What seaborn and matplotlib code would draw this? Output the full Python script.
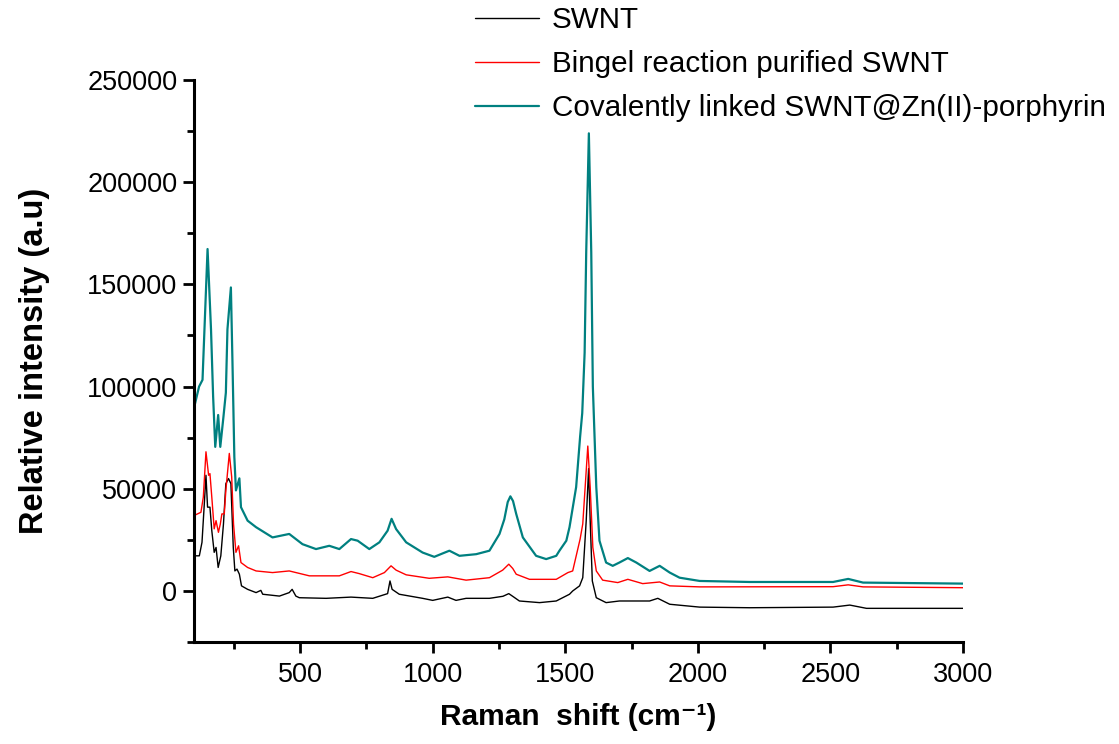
import matplotlib
matplotlib.use("Agg")
import matplotlib.pyplot as plt
from matplotlib.ticker import MultipleLocator
import seaborn as sns
import pandas as pd

# values
swnt_x = [100, 120, 130, 138, 145, 151, 160, 167, 176, 183, 191, 201, 211, 220, 230, 239,
          248, 254, 262, 271, 279, 302, 334, 352, 359, 422, 459, 470, 484, 497, 598, 692,
          774, 830, 839, 847, 874, 962, 1000, 1057, 1088, 1126, 1214, 1265, 1287, 1305,
          1327, 1403, 1466, 1516, 1528, 1554, 1566, 1579, 1588, 1594, 1602, 1617, 1654,
          1704, 1818, 1849, 1894, 2007, 2195, 2510, 2573, 2636, 3000]
swnt_y = [17200, 17200, 23800, 41000, 56600, 41000, 41000, 29500, 18900, 21300, 11500, 17200,
          32800, 52500, 55000, 52500, 21300, 9800, 10700, 8200, 2500, 800, -800, 300, -1600,
          -2500, -800, 800, -2500, -3300, -3600, -3000, -3600, -1300, 4900, 800, -1600,
          -3600, -4600, -3000, -4600, -3600, -3600, -2600, -1300, -2900, -4900, -5700, -4900,
          -1600, 0, 2500, 6500, 34400, 59900, 34400, 4900, -3300, -5700, -4900, -4900, -3600,
          -6500, -7900, -8200, -7900, -6900, -8500, -8500]

bingel_x = [100, 126, 135, 145, 155, 160, 167, 176, 183, 192, 199, 205, 214, 220, 233, 242,
            249, 258, 268, 277, 302, 334, 396, 459, 535, 648, 692, 723, 774, 818, 843, 862,
            900, 987, 1057, 1126, 1214, 1264, 1287, 1302, 1315, 1365, 1466, 1510, 1528,
            1556, 1566, 1575, 1585, 1594, 1604, 1617, 1641, 1698, 1736, 1792, 1856, 1894,
            2007, 2510, 2567, 2623, 3000]
bingel_y = [36900, 38500, 45900, 68100, 56600, 57400, 45900, 30400, 34400, 28700, 32700,
            37700, 37700, 49200, 67300, 55800, 32700, 18900, 22100, 13900, 11500, 9800, 9000,
            9800, 7400, 7400, 9500, 8500, 6500, 9000, 12300, 10200, 7900, 6200, 6900, 5300,
            6500, 10200, 13100, 11000, 8200, 5700, 5700, 9000, 9800, 25400, 32800, 50800,
            70900, 50800, 21300, 9800, 5300, 4100, 5700, 3600, 4400, 2500, 2000, 2100, 3000,
            2000, 1600]

porph_x = [100, 119, 132, 151, 164, 172, 180, 191, 199, 211, 220, 226, 239, 245, 252, 258,
           271, 277, 302, 334, 396, 459, 509, 560, 610, 648, 692, 717, 761, 799, 830, 845,
           862, 900, 962, 1006, 1038, 1063, 1101, 1164, 1214, 1252, 1270, 1283, 1293, 1303,
           1315, 1340, 1390, 1428, 1466, 1478, 1504, 1516, 1541, 1556, 1564, 1573, 1579,
           1589, 1598, 1604, 1617, 1629, 1654, 1679, 1704, 1736, 1768, 1818, 1856, 1894,
           1931, 2007, 2195, 2510, 2567, 2623, 3000]
porph_y = [89600, 100000, 103300, 167300, 128000, 95100, 70500, 86100, 70500, 85300, 97000,
           128000, 148500, 111600, 65600, 49200, 55100, 41000, 34400, 31200, 26200, 27900,
           22900, 20500, 22100, 20500, 25400, 24600, 20500, 23800, 29500, 35300, 30300,
           23800, 18800, 16700, 18400, 19700, 17200, 18000, 19700, 27900, 35000, 43500,
           46300, 44000, 37700, 26200, 17200, 15600, 17200, 19700, 24600, 31200, 50800,
           75500, 87000, 116500, 165700, 223900, 165700, 100000, 50800, 24600, 13900, 12300,
           13900, 16100, 13900, 9800, 12300, 9000, 6500, 4900, 4400, 4400, 5900, 4100, 3600]

labels = ["SWNT", "Bingel reaction purified SWNT", "Covalently linked SWNT@Zn(II)-porphyrin"]
colors = ["black", "#ff0000", "#008080"]

sns.set_theme(style="ticks")
plt.rcParams["font.family"] = ["Liberation Sans", "DejaVu Sans"]
plt.rcParams["text.color"] = "black"
plt.rcParams["axes.labelcolor"] = "black"

fig = plt.figure(figsize=(11.19, 7.44), dpi=100)
ax = fig.add_axes([0.1734, 0.137, 0.6872, 0.7555])

series = [(swnt_x, swnt_y), (bingel_x, bingel_y), (porph_x, porph_y)]
widths = [1.0, 1.0, 1.6]
for (xs, ys), lab, col, lw in zip(series, labels, colors, widths):
    df = pd.DataFrame({"shift": xs, "intensity": ys})
    sns.lineplot(data=df, x="shift", y="intensity", color=col, lw=lw, label=lab,
                 estimator=None, sort=False, ax=ax, legend=False)

ax.set_xlim(100, 3000)
ax.set_ylim(-25000, 250000)
ax.xaxis.set_major_locator(MultipleLocator(500))
ax.xaxis.set_minor_locator(MultipleLocator(250))
ax.yaxis.set_major_locator(MultipleLocator(50000))
ax.yaxis.set_minor_locator(MultipleLocator(25000))
ax.set_xticks([500, 1000, 1500, 2000, 2500, 3000])
ax.set_yticks([0, 50000, 100000, 150000, 200000, 250000])

for side in ["top", "right"]:
    ax.spines[side].set_visible(False)
for side in ["left", "bottom"]:
    ax.spines[side].set_linewidth(2.2)
    ax.spines[side].set_color("black")

ax.tick_params(which="major", direction="out", length=8, width=2, labelsize=19.5,
               colors="black", pad=4)
ax.tick_params(which="minor", direction="out", length=5, width=2, colors="black")
ax.tick_params(axis="x", which="major", pad=6)

ax.set_xlabel("Raman  shift (cm\u207b\u00b9)", fontsize=21.5, fontweight="bold", labelpad=11)
ax.set_ylabel("Relative intensity (a.u)", fontsize=23.5, fontweight="bold", labelpad=27)
ax.grid(False)

handles, _ = ax.get_legend_handles_labels()
fig.legend(handles, labels, loc="upper left", bbox_to_anchor=(0.4245, 0.992),
           bbox_transform=fig.transFigure, frameon=False, fontsize=21.3,
           handlelength=2.17, handletextpad=0.43, labelspacing=0.54,
           borderpad=0, borderaxespad=0, labelcolor="black")

fig.savefig("out.png", dpi=100)
